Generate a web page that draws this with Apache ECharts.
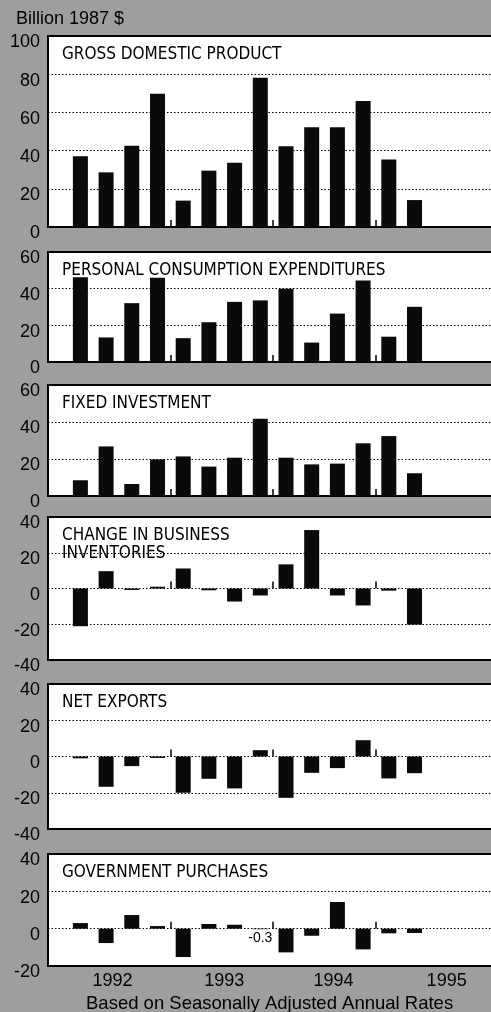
<!DOCTYPE html>
<html>
<head>
<meta charset="utf-8">
<title>GDP and components</title>
<script src="https://cdn.jsdelivr.net/npm/echarts@6/dist/echarts.min.js"></script>
<style>
  html, body { margin: 0; padding: 0; background: #9e9e9e; }
  #chart { width: 491px; height: 1012px; }
</style>
</head>
<body>
<!-- chart container -->
<div id="chart"></div>
<script>
// quarterly changes, billion 1987 $, 1992 Q1 - 1995 Q2
const quarters = ['92 Q1', '92 Q2', '92 Q3', '92 Q4', '93 Q1', '93 Q2', '93 Q3', '93 Q4',
                  '94 Q1', '94 Q2', '94 Q3', '94 Q4', '95 Q1', '95 Q2']
const years = ['1992', '1993', '1994', '1995']

const gdp = [37, 28.6, 42.6, 69.7, 13.8, 29.5, 33.7, 78.1, 42.3, 52.2, 52.2, 66, 35.3, 14.1]
const consumption = [46.2, 13.4, 32.1, 45.9, 13, 21.7, 32.8, 33.6, 40, 10.6, 26.4, 44.4, 13.8, 30.1]
const fixedInvestment = [8.5, 26.8, 6.5, 19.8, 21.4, 15.9, 20.7, 41.8, 20.7, 17.1, 17.5, 28.5, 32.4, 12.3]
const inventories = [-21.1, 9.7, -0.8, 1, 11.2, -1, -7.3, -3.9, 13.5, 32.7, -3.9, -9.5, -1.2, -20.2]
const netExports = [-1, -16.7, -5.3, -0.8, -20, -12.3, -17.6, 3.5, -22.8, -9, -6.4, 9, -12.1, -9.2]
const government = [3, -7.7, 7.3, 1.4, -15.2, 2.5, 2.1, -0.3, -12.7, -3.8, 14.3, -11.1, -2.5, -2.3]

// y axis ticks per panel
const ticksGdp = [0, 20, 40, 60, 80, 100]
const ticksPos = [0, 20, 40, 60]
const ticksWide = [-40, -20, 0, 20, 40]
const ticksGov = [-20, 0, 20, 40]

const FONT = 'Liberation Sans, Arial, sans-serif'
const NARROW = 'DejaVu Sans Condensed, Liberation Sans Narrow, sans-serif'

// panels: title, data, ticks, top/height in px
const panels = [
    { title: 'GROSS DOMESTIC PRODUCT', data: gdp, ticks: ticksGdp, top: 36, height: 191 },
    { title: 'PERSONAL CONSUMPTION EXPENDITURES', data: consumption, ticks: ticksPos, top: 252, height: 110 },
    { title: 'FIXED INVESTMENT', data: fixedInvestment, ticks: ticksPos, top: 385, height: 111 },
    { title: 'CHANGE IN BUSINESS\nINVENTORIES', data: inventories, ticks: ticksWide, top: 517, height: 143 },
    { title: 'NET EXPORTS', data: netExports, ticks: ticksWide, top: 684, height: 145 },
    { title: 'GOVERNMENT PURCHASES', data: government, ticks: ticksGov, top: 854, height: 112 }
]

// year boundaries (between Q4 and Q1) and where the year labels sit
const yearTicks = years.slice(1).map((y, k) => 4 * (k + 1) - 0.5)
const yearLabelAt = [1.25, 5.6, 9.85, 14.25]

const grids = []
const xAxes = []
const yAxes = []
const series = []
const titles = [{
    text: 'Billion 1987 $',
    left: 16, top: 10, padding: 0,
    textStyle: { fontFamily: FONT, fontSize: 18, fontWeight: 'normal', color: '#000' }
}]

panels.forEach((p, i) => {
    const last = i === panels.length - 1
    grids.push({
        left: 48, width: 540, top: p.top, height: p.height, // panel runs past the right edge
        outerBoundsMode: 'none',
        show: true, backgroundColor: '#fff', borderColor: '#000', borderWidth: 2
    })
    xAxes.push({
        type: 'value', gridIndex: i,
        min: -1.26, max: 19.75,
        axisLine: { show: false },
        splitLine: { show: false },
        axisTick: {
            show: true, inside: true, length: 7,
            customValues: yearTicks,
            lineStyle: { color: '#000', width: 1.5 }
        },
        axisLabel: {
            show: last,
            customValues: yearLabelAt,
            formatter: v => years[yearLabelAt.indexOf(v)] || '',
            margin: 6,
            fontFamily: FONT, fontSize: 18, color: '#000'
        }
    })
    yAxes.push({
        type: 'value', gridIndex: i,
        min: p.ticks[0], max: p.ticks[p.ticks.length - 1], interval: 20,
        axisLine: { show: false },
        axisTick: { show: false },
        axisLabel: {
            margin: 8,
            verticalAlign: 'top',
            lineHeight: 13, // pushes the numbers a little below their grid line
            fontFamily: FONT, fontSize: 18, color: '#000'
        },
        splitLine: {
            show: true,
            lineStyle: { color: '#000', width: 1, type: [1.5, 2] }
        }
    })
    series.push({
        type: 'bar', xAxisIndex: i, yAxisIndex: i,
        barWidth: 15,
        itemStyle: { color: '#0a0a0a' },
        data: p.data.map((v, k) => {
            const item = { value: [k, v], name: quarters[k] }
            // small value with no visible bar gets its own label
            if (Math.abs(v) < 0.5 && last) {
                item.label = {
                    show: true, position: 'bottom', distance: 2,
                    formatter: d => String(d.value[1]),
                    fontFamily: FONT, fontSize: 14, color: '#000'
                }
            }
            return item
        })
    })
    titles.push({
        text: p.title,
        left: 62, top: p.top + 10, padding: 0,
        textStyle: { fontFamily: NARROW, fontSize: 17, fontWeight: 'normal', color: '#000', lineHeight: 18 }
    })
})

titles.push({
    text: 'Based on Seasonally Adjusted Annual Rates',
    left: 86, top: 994, padding: 0,
    textStyle: { fontFamily: FONT, fontSize: 18.5, fontWeight: 'normal', color: '#000' }
})

let myChart = echarts.init(document.getElementById('chart'))
myChart.setOption({
    backgroundColor: '#9e9e9e',
    animation: false,
    title: titles,
    grid: grids,
    xAxis: xAxes,
    yAxis: yAxes,
    series: series
})
</script>
</body>
</html>
